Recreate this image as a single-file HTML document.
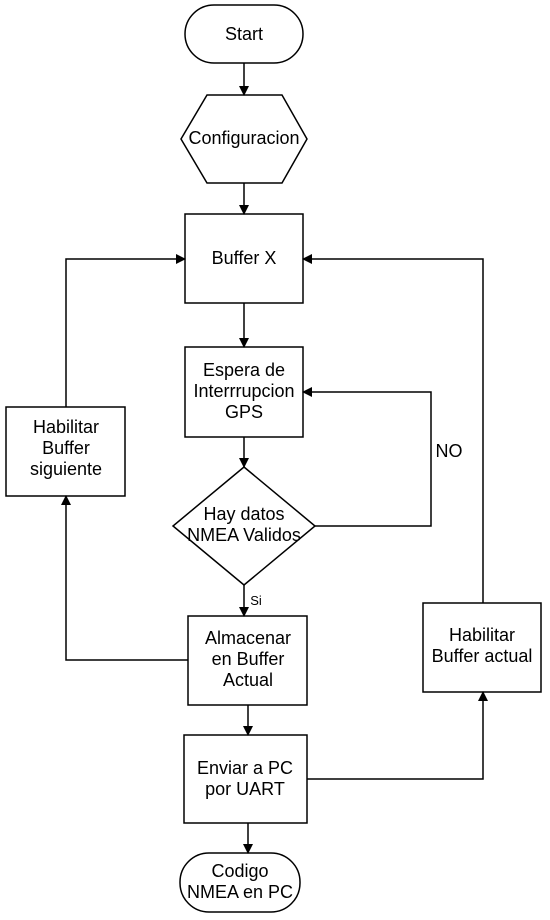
<!DOCTYPE html>
<html><head><meta charset="utf-8"><style>
body{margin:0;background:#fff}
svg{display:block}
text{font-family:"Liberation Sans",sans-serif;font-size:18px;fill:#000;text-anchor:middle}
</style></head><body>
<svg width="550" height="920" viewBox="0 0 550 920">
<defs><marker id="a" markerWidth="10" markerHeight="10" refX="9" refY="5" orient="auto" markerUnits="userSpaceOnUse"><path d="M0,0 L10,5 L0,10 z" fill="#000"/></marker></defs>
<g fill="#fff" stroke="#000" stroke-width="1.5">
<rect x="185" y="5" width="118" height="58" rx="29"/>
<polygon points="207,95 282,95 307,139 282,183 207,183 181,139"/>
<rect x="185" y="214" width="118" height="89"/>
<rect x="185" y="347" width="118" height="90"/>
<polygon points="244,467 315,526 244,585 173,526"/>
<rect x="188" y="616" width="119" height="89"/>
<rect x="184" y="735" width="123" height="88"/>
<rect x="180" y="853" width="120" height="59" rx="29"/>
<rect x="6" y="407" width="119" height="89"/>
<rect x="423" y="603" width="118" height="89"/>
</g>
<g fill="none" stroke="#000" stroke-width="1.5" marker-end="url(#a)">
<path d="M244,63 V95"/>
<path d="M244,183 V214"/>
<path d="M244,303 V347"/>
<path d="M244,437 V467"/>
<path d="M244,585 V616"/>
<path d="M248,705 V735"/>
<path d="M248,823 V853"/>
<path d="M188,660 H66 V496"/>
<path d="M66,407 V259 H185"/>
<path d="M315,526 H431 V392 H303"/>
<path d="M307,779 H483 V692"/>
<path d="M483,603 V259 H303"/>
</g>
<text x="244" y="40">Start</text>
<text x="244" y="144">Configuracion</text>
<text x="244" y="264">Buffer X</text>
<text x="244" y="376">Espera de</text>
<text x="244" y="397">Interrrupcion</text>
<text x="244" y="418">GPS</text>
<text x="244" y="520">Hay datos</text>
<text x="244" y="541">NMEA Validos</text>
<text x="256" y="605" style="font-size:13px">Si</text>
<text x="248" y="644">Almacenar</text>
<text x="248" y="665">en Buffer</text>
<text x="248" y="686">Actual</text>
<text x="245" y="774">Enviar a PC</text>
<text x="245" y="795">por UART</text>
<text x="240" y="877">Codigo</text>
<text x="240" y="898">NMEA en PC</text>
<text x="66" y="433">Habilitar</text>
<text x="66" y="454">Buffer</text>
<text x="66" y="475">siguiente</text>
<text x="482" y="641">Habilitar</text>
<text x="482" y="662">Buffer actual</text>
<text x="449" y="457">NO</text>
</svg>
</body></html>
